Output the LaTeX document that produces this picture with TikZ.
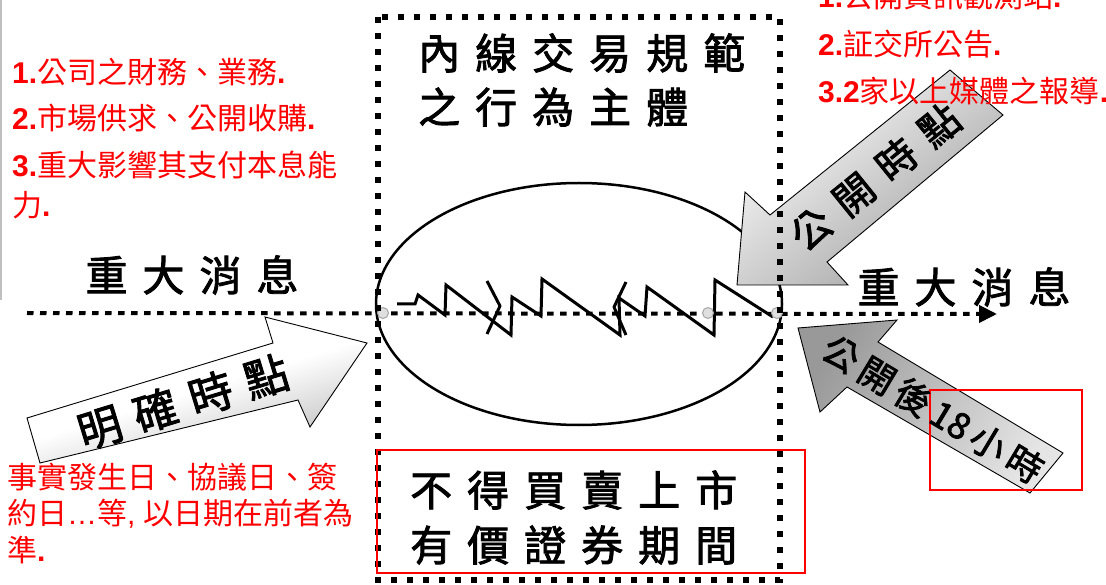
\documentclass[tikz,border=0pt]{standalone}
\usepackage{fontspec}
\setmainfont{Noto Sans CJK TC}
\newfontfamily\blkfont[FakeBold=2]{Noto Sans CJK TC}
\newfontfamily\lat{Liberation Sans}
\usetikzlibrary{shapes.geometric,arrows.meta}
\newcommand\nb[1]{{\lat\bfseries #1}}
\newcommand\ltn[1]{{\lat #1}}
\newcommand\gp{\hspace{15pt}}
\begin{document}
\begin{tikzpicture}[x=1pt,y=-1pt,
  blk/.style={font=\blkfont\fontsize{42}{50}\selectfont, inner sep=0pt},
  redtxt/.style={text=red, font=\fontsize{30}{36}\selectfont, anchor=west, inner sep=0pt},
  blockarrow/.style={draw=black, line width=0.9pt, line join=miter},
  dotframe/.style={line width=5.5pt, dash pattern=on 6pt off 10pt},
  axisline/.style={line width=4pt, dash pattern=on 6.5pt off 6.5pt, -{Triangle[length=18pt,width=17pt]}},
  dotmark/.style={circle, draw=gray!70, fill=gray!25, line width=1pt, minimum size=11pt, inner sep=0pt},
  redbox/.style={draw=red, line width=2pt}]
\useasboundingbox (0,0) rectangle (1106,585);
\clip (0,0) rectangle (1106,585);
\fill[white] (0,0) rectangle (1106,585);
\draw[gray!50, line width=1.2pt] (1,0) -- (1,300);

% ellipse
\node[ellipse, draw, line width=2.5pt, minimum width=406pt, minimum height=242pt, inner sep=0pt] (ell) at (579,304) {};

% axis
\coordinate (axL) at (27,313);
\coordinate (axR) at (997,314);
\draw[axisline] (axL) -- (axR);

% zigzag
\draw[line width=3pt, line join=miter, miter limit=4]
  (397,304) -- (415,304) -- (418,295) -- (445,315) -- (446,285) -- (511,335) -- (512,297)
  -- (541,316) -- (542,279) -- (620,335) -- (619,298) -- (645,316) -- (647,287)
  -- (714,335) -- (715,280) -- (773,317);
\draw[line width=3pt, line join=round] (487,281) -- (500,306) -- (487,334);
\draw[line width=3pt, line join=round] (626,282) -- (614,307) -- (626,335);

\node[dotmark] (c1) at (383,313) {};
\node[dotmark] (c2) at (708,313) {};
\node[dotmark] (c3) at (777,313) {};

% block arrows
\draw[blockarrow, top color=white, bottom color=gray!55, middle color=white, shading angle=17]
  (27,418) -- (273,343) -- (265,317) -- (367,343) -- (310,427) -- (298,400) -- (40,463) -- cycle;
\draw[blockarrow, top color=white, bottom color=gray!75, shading angle=39]
  (737,285) -- (745,192) -- (770,215) -- (950,70) -- (1003,115) -- (827,262) -- (848,285) -- cycle;
\draw[blockarrow, top color=gray!80, bottom color=gray!20, shading angle=59]
  (798,328) -- (897,320) -- (878,342) -- (1063,453) -- (1030,493) -- (847,387) -- (820,412) -- cycle;

% dotted frame
\draw[dotframe] (378,17) rectangle (780,580);

% red boxes
\draw[redbox] (377,450) rectangle (805,573);
\draw[redbox] (930,390) rectangle (1082,490);

% black texts
\node[blk, anchor=west] (title1) at (418,53) {內\gp{}線\gp{}交\gp{}易\gp{}規\gp{}範};
\node[blk, anchor=west] (title2) at (418,107) {之\gp{}行\gp{}為\gp{}主\gp{}體};
\node[blk] (msgL) at (192,275) {重\gp{}大\gp{}消\gp{}息};
\node[blk] (msgR) at (964,287) {重\gp{}大\gp{}消\gp{}息};
\node[blk, anchor=west] (ban1) at (410,490) {不\gp{}得\gp{}買\gp{}賣\gp{}上\gp{}市};
\node[blk, anchor=west] (ban2) at (410,545) {有\gp{}價\gp{}證\gp{}券\gp{}期\gp{}間};

\node[blk, font=\blkfont\fontsize{44}{50}\selectfont, rotate=17] (clear) at (183,402)
  {明\hspace{14pt}確\hspace{14pt}時\hspace{14pt}點};
\node[blk, font=\blkfont\fontsize{40}{48}\selectfont, rotate=39] (pub) at (875,177)
  {公\gp{}開\gp{}時\gp{}點};
\node[blk, font=\blkfont\fontsize{36}{44}\selectfont, rotate=-31] (after) at (933,409)
  {公\hspace{6pt}開\hspace{6pt}後\hspace{6pt}18\hspace{6pt}小\hspace{6pt}時};

% red texts
\node[redtxt] (l1) at (12,72) {\nb{1.}公司之財務、業務\nb{.}};
\node[redtxt] (l2) at (12,118) {\nb{2.}市場供求、公開收購\nb{.}};
\node[redtxt] (l3) at (12,165) {\nb{3.}重大影響其支付本息能};
\node[redtxt] (l4) at (12,205) {力\nb{.}};

\node[redtxt] (r1) at (818,-4) {\nb{1.}公開資訊觀測站\nb{.}};
\node[redtxt] (r2) at (818,44) {\nb{2.}証交所公告\nb{.}};
\node[redtxt] (r3) at (818,91) {\nb{3.2}家以上媒體之報導\nb{.}};

\node[redtxt] (b1) at (7,477) {事實發生日、協議日、簽};
\node[redtxt] (b2) at (7,514) {約日\ltn{…}等\ltn{, }以日期在前者為};
\node[redtxt] (b3) at (7,550) {準\nb{.}};
\end{tikzpicture}
\end{document}
